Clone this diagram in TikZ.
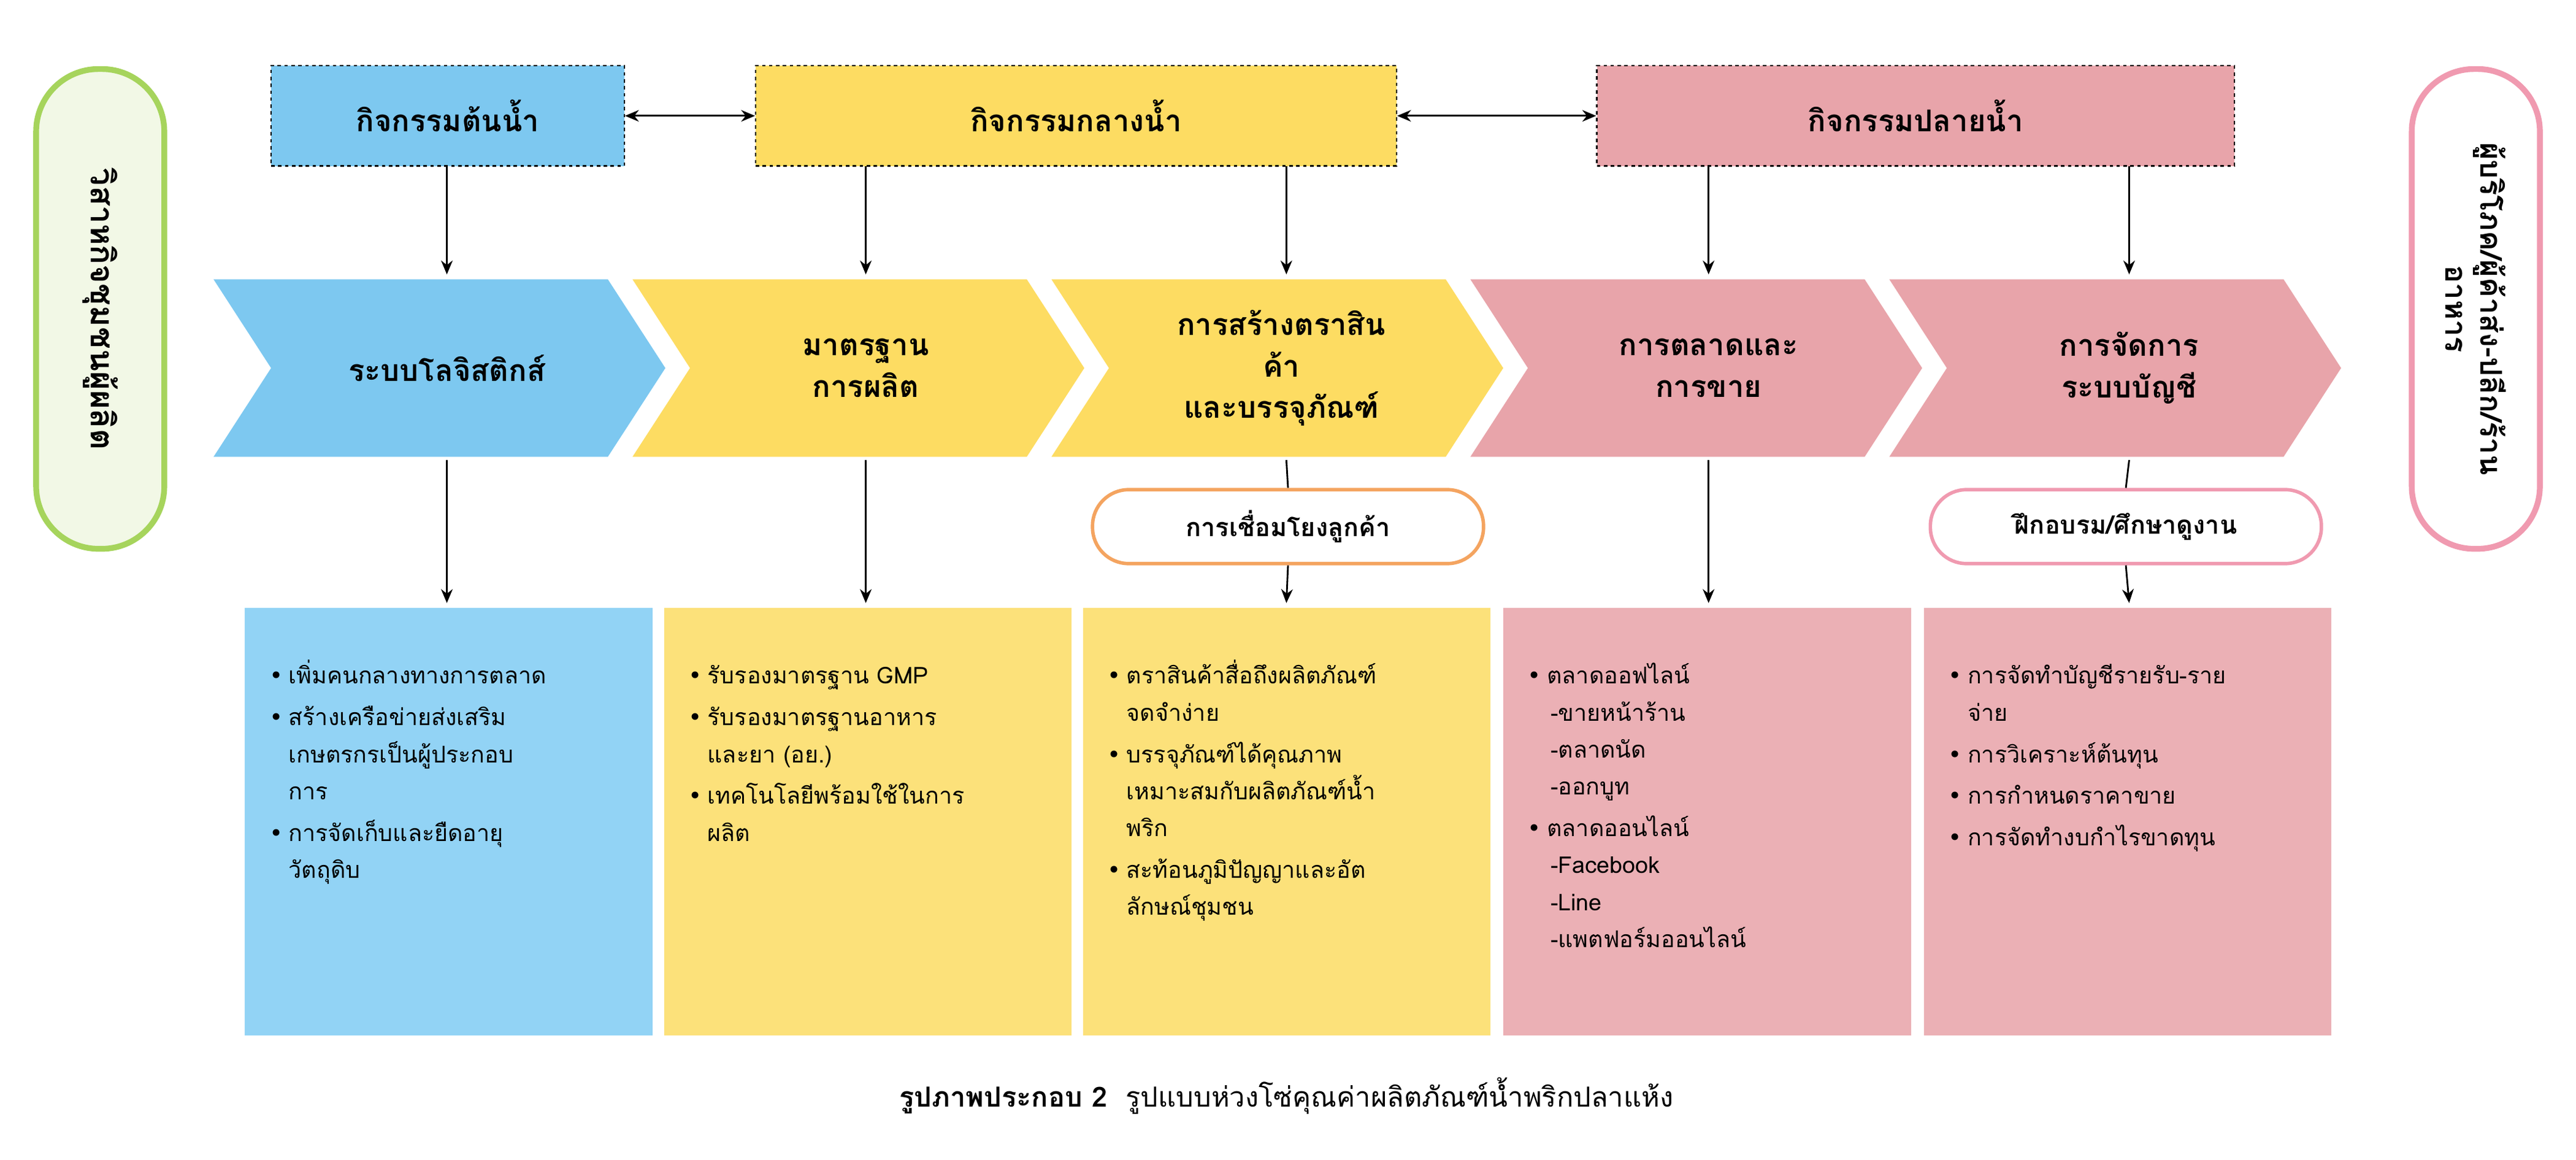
\documentclass[tikz,border=0pt]{standalone}
\usepackage{fontspec}
\setmainfont[Script=Thai]{Loma}
\newfontfamily\dejavu{DejaVu Sans}
\usetikzlibrary{arrows.meta}
\definecolor{cblue}{HTML}{7DC8F0}
\definecolor{cyel}{HTML}{FDDC62}
\definecolor{cpink}{HTML}{E8A4AA}
\definecolor{lblue}{HTML}{92D3F5}
\definecolor{lyel}{HTML}{FCE17A}
\definecolor{lpink}{HTML}{EBB0B5}
\definecolor{cgreen}{HTML}{A6D45C}
\definecolor{lgreen}{HTML}{F2F8E6}
\definecolor{cor}{HTML}{F4A460}
\definecolor{cpk2}{HTML}{F09AB0}
\newcommand{\bl}{\item[{\dejavu •}]}
\begin{document}
\begin{tikzpicture}[x=0.05cm,y=-0.05cm,
 top/.style={draw,dashed,line width=1.2pt,font=\fontsize{26}{30}\selectfont\bfseries},
 arr/.style={-{Stealth[length=12pt,width=10pt]},line width=1.5pt},
 darr/.style={{Stealth[length=12pt,width=10pt]}-{Stealth[length=12pt,width=10pt]},line width=1.5pt},
 ctitle/.style={align=center,font=\fontsize{26}{36}\selectfont\bfseries},
 bbox/.style={anchor=north west,minimum width=248*0.05cm,minimum height=260*0.05cm,inner sep=0pt},
 btext/.style={anchor=north west,text width=235*0.05cm,align=left,font=\fontsize{20}{32}\selectfont,inner sep=0pt},
 pill/.style={draw,line width=3pt,rounded corners=22*0.05cm,fill=white,minimum width=238*0.05cm,minimum height=45*0.05cm,font=\fontsize{22}{26}\selectfont\bfseries}]
\useasboundingbox (0,0) rectangle (1568,705.6);
% side boxes
\node[draw=cgreen,fill=lgreen,line width=5pt,rounded corners=38*0.05cm,minimum width=78*0.05cm,minimum height=292*0.05cm] (L) at (61,188) {};
\node[rotate=-90,font=\fontsize{28}{32}\selectfont\bfseries] (Lt) at (61,188) {วิสาหกิจชุมชนผู้ผลิต};
\node[draw=cpk2,fill=white,line width=5pt,rounded corners=38*0.05cm,minimum width=78*0.05cm,minimum height=292*0.05cm] (R) at (1507,188) {};
\node[rotate=-90,align=center,font=\fontsize{26}{30}\selectfont\bfseries] (Rt) at (1507,188) {ผู้บริโภค/ผู้ค้าส่ง-ปลีก/ร้าน\\อาหาร};
% top boxes
\node[top,fill=cblue,minimum width=215*0.05cm,minimum height=61*0.05cm] (t1) at (272.5,70.5) {กิจกรรมต้นน้ำ};
\node[top,fill=cyel,minimum width=390*0.05cm,minimum height=61*0.05cm] (t2) at (655,70.5) {กิจกรรมกลางน้ำ};
\node[top,fill=cpink,minimum width=388*0.05cm,minimum height=61*0.05cm] (t3) at (1166,70.5) {กิจกรรมปลายน้ำ};
\draw[darr] (t1.east) -- (t2.west);
\draw[darr] (t2.east) -- (t3.west);
% chevrons
\foreach \x/\c/\n in {130/cblue/1,385/cyel/2,640/cyel/3,895/cpink/4,1150/cpink/5}{
  \fill[\c] (\x,170) -- (\x+240,170) -- (\x+275,224) -- (\x+240,278) -- (\x,278) -- (\x+35,224) -- cycle;
  \coordinate (c\n t) at (\x+142,170);
  \coordinate (c\n b) at (\x+142,278);
}
\node[ctitle] (ct1) at (272,224) {ระบบโลจิสติกส์};
\node[ctitle] (ct2) at (527,224) {มาตรฐาน\\การผลิต};
\node[ctitle] (ct3) at (780,224) {การสร้างตราสิน\\ค้า\\และบรรจุภัณฑ์};
\node[ctitle] (ct4) at (1040,224) {การตลาดและ\\การขาย};
\node[ctitle] (ct5) at (1296,224) {การจัดการ\\ระบบบัญชี};
\coordinate (a1) at (272,101); \coordinate (a2) at (527,101); \coordinate (a3) at (783,101);
\coordinate (a4) at (1040,101); \coordinate (a5) at (1296,101);
\draw[arr] (a1) -- (272,167); \draw[arr] (a2) -- (527,167); \draw[arr] (a3) -- (783,167);
\draw[arr] (a4) -- (1040,167); \draw[arr] (a5) -- (1296,167);
% pills
\node[pill,draw=cor] (p1) at (784,320.5) {การเชื่อมโยงลูกค้า};
\node[pill,draw=cpk2] (p2) at (1294,320.5) {ฝึกอบรม/ศึกษาดูงาน};
% bottom boxes
\node[bbox,fill=lblue] (b1) at (149,370) {};
\node[bbox,fill=lyel] (b2) at (404,370) {};
\node[bbox,fill=lyel] (b3) at (659,370) {};
\node[bbox,fill=lpink] (b4) at (915,370) {};
\node[bbox,fill=lpink] (b5) at (1171,370) {};
\coordinate (d1) at (272,280); \coordinate (d2) at (527,280); \coordinate (d3) at (783,280);
\coordinate (d4) at (1040,280); \coordinate (d5) at (1296,280);
\draw[arr] (d1) -- (272,367); \draw[arr] (d2) -- (527,367);
\draw[line width=1.5pt] (d3) -- (p1.north); \draw[arr] (p1.south) -- (783,367);
\draw[arr] (d4) -- (1040,367);
\draw[line width=1.5pt] (d5) -- (p2.north); \draw[arr] (p2.south) -- (1296,367);
% texts
\node[btext] (x1) at (158,388) {\begin{itemize}\setlength\itemsep{0pt}\setlength\leftmargin{22pt}
\bl เพิ่มคนกลางทางการตลาด
\bl สร้างเครือข่ายส่งเสริม\\เกษตรกรเป็นผู้ประกอบ\\การ
\bl การจัดเก็บและยืดอายุ\\วัตถุดิบ\end{itemize}};
\node[btext] (x2) at (413,388) {\begin{itemize}\setlength\itemsep{0pt}
\bl รับรองมาตรฐาน GMP
\bl รับรองมาตรฐานอาหาร\\และยา (อย.)
\bl เทคโนโลยีพร้อมใช้ในการ\\ผลิต\end{itemize}};
\node[btext] (x3) at (668,388) {\begin{itemize}\setlength\itemsep{0pt}
\bl ตราสินค้าสื่อถึงผลิตภัณฑ์\\จดจำง่าย
\bl บรรจุภัณฑ์ได้คุณภาพ\\เหมาะสมกับผลิตภัณฑ์น้ำ\\พริก
\bl สะท้อนภูมิปัญญาและอัต\\ลักษณ์ชุมชน\end{itemize}};
\node[btext] (x4) at (924,388) {\begin{itemize}\setlength\itemsep{0pt}
\bl ตลาดออฟไลน์\\\hspace*{3pt}-ขายหน้าร้าน\\\hspace*{3pt}-ตลาดนัด\\\hspace*{3pt}-ออกบูท
\bl ตลาดออนไลน์\\\hspace*{3pt}-Facebook\\\hspace*{3pt}-Line\\\hspace*{3pt}-แพตฟอร์มออนไลน์\end{itemize}};
\node[btext] (x5) at (1180,388) {\begin{itemize}\setlength\itemsep{0pt}
\bl การจัดทำบัญชีรายรับ-ราย\\จ่าย
\bl การวิเคราะห์ต้นทุน
\bl การกำหนดราคาขาย
\bl การจัดทำงบกำไรขาดทุน\end{itemize}};
% caption
\node[font=\fontsize{24}{28}\selectfont] (cap) at (783,667) {\textbf{รูปภาพประกอบ 2}\ \ รูปแบบห่วงโซ่คุณค่าผลิตภัณฑ์น้ำพริกปลาแห้ง};
\end{tikzpicture}
\end{document}
